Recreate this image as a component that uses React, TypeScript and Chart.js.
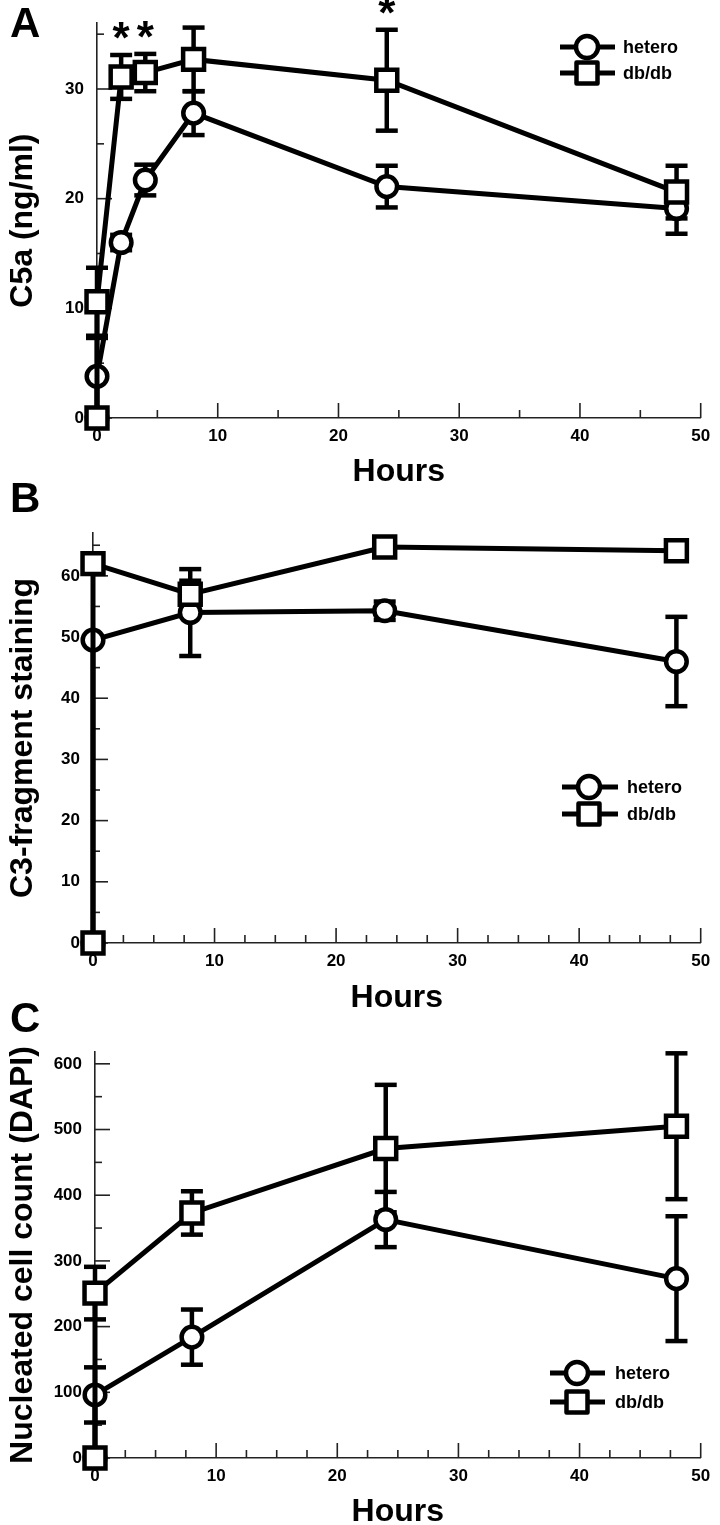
import React, { useEffect, useRef } from "react";
import { Chart, registerables } from "chart.js";

Chart.register(...registerables);

const FONT = "'Liberation Sans', Arial, Helvetica, sans-serif";

// ---------- Panel A : C5a (ng/ml) ----------
const hoursA = [0, 0, 2, 4, 8, 24, 48];
const c5aHetero = [0, 3.8, 16.0, 21.7, 27.8, 21.1, 19.1];
const c5aHeteroErr = [0, 3.5, 0.7, 1.4, 2.0, 1.9, 2.3];
const c5aDb = [0, 10.6, 31.1, 31.5, 32.7, 30.8, 20.6];
const c5aDbErr = [0, 3.1, 2.0, 1.7, 2.9, 4.6, 2.4];
const c5aStarIdx = [2, 3, 5];
const yTicksA = [0, 10, 20, 30];
const yMinorA = [5, 15, 25, 35];
const xMinorA = [5, 15, 25, 35, 45];

// ---------- Panel B : C3-fragment staining ----------
const hoursBC = [0, 0, 8, 24, 48];
const c3Hetero = [0, 49.5, 54.0, 54.3, 46.0];
const c3HeteroErr = [0, 0, 7.1, 1.5, 7.3];
const c3Db = [0, 62.0, 57.0, 64.7, 64.1];
const c3DbErr = [0, 0, 2.2, 0, 0];
const yTicksB = [0, 10, 20, 30, 40, 50, 60];
const yMinorB = [5, 15, 25, 35, 45, 55, 65];

// ---------- Panel C : Nucleated cell count (DAPI) ----------
const dapiHetero = [0, 96, 184, 363, 273];
const dapiHeteroErr = [0, 42, 42, 42, 95];
const dapiDb = [0, 251, 373, 471, 505];
const dapiDbErr = [0, 40, 33, 97, 111];
const yTicksC = [0, 100, 200, 300, 400, 500, 600];
const yMinorC = [50, 150, 250, 350, 450, 550];

// shared x ticks
const xTicks = [0, 10, 20, 30, 40, 50];
const xMinorBC = [2.5, 5, 7.5, 12.5, 15, 17.5, 22.5, 25, 27.5, 32.5, 35, 37.5, 42.5, 45, 47.5];

const seriesNames = ["hetero", "db/db"];

// layout given in page coordinates
const panels: any[] = [
  {
    letter: "A",
    canvasTop: 0,
    canvasHeight: 500,
    area: { left: 97, top: 15, right: 704, bottom: 418 },
    letterBaseline: 37,
    xTitleCenter: 472.5,
    yMax: 36,
    yTitle: "C5a (ng/ml)",
    hours: hoursA,
    hetero: c5aHetero,
    heteroErr: c5aHeteroErr,
    db: c5aDb,
    dbErr: c5aDbErr,
    stars: c5aStarIdx,
    yTicks: yTicksA,
    yMinor: yMinorA,
    xMinor: xMinorA,
    legend: { x1: 560, x2: 615, mx: 587, tx: 623, y1: 47, y2: 73 },
  },
  {
    letter: "B",
    canvasTop: 470,
    canvasHeight: 550,
    area: { left: 93, top: 533, right: 710, bottom: 943 },
    letterBaseline: 512,
    xTitleCenter: 998,
    yMax: 67,
    yTitle: "C3-fragment staining",
    hours: hoursBC,
    hetero: c3Hetero,
    heteroErr: c3HeteroErr,
    db: c3Db,
    dbErr: c3DbErr,
    stars: [],
    yTicks: yTicksB,
    yMinor: yMinorB,
    xMinor: xMinorBC,
    legend: { x1: 562, x2: 618, mx: 589, tx: 627, y1: 787, y2: 814 },
  },
  {
    letter: "C",
    canvasTop: 990,
    canvasHeight: 535,
    area: { left: 95, top: 1052, right: 707, bottom: 1458 },
    letterBaseline: 1032,
    xTitleCenter: 1512,
    yMax: 618,
    yTitle: "Nucleated cell count (DAPI)",
    hours: hoursBC,
    hetero: dapiHetero,
    heteroErr: dapiHeteroErr,
    db: dapiDb,
    dbErr: dapiDbErr,
    stars: [],
    yTicks: yTicksC,
    yMinor: yMinorC,
    xMinor: xMinorBC,
    legend: { x1: 550, x2: 605, mx: 577, tx: 615, y1: 1373, y2: 1402 },
  },
];

const TITLE_SIZE = 32;

function line(ctx: any, x1: number, y1: number, x2: number, y2: number) {
  ctx.beginPath();
  ctx.moveTo(x1, y1);
  ctx.lineTo(x2, y2);
  ctx.stroke();
}

function drawCircle(ctx: any, x: number, y: number, r: number) {
  ctx.beginPath();
  ctx.arc(x, y, r, 0, Math.PI * 2);
  ctx.fillStyle = "#fff";
  ctx.fill();
  ctx.lineWidth = 4.5;
  ctx.strokeStyle = "#000";
  ctx.stroke();
}

function drawSquare(ctx: any, x: number, y: number, h: number) {
  ctx.beginPath();
  ctx.rect(x - h, y - h, 2 * h, 2 * h);
  ctx.fillStyle = "#fff";
  ctx.fill();
  ctx.lineWidth = 4.5;
  ctx.lineJoin = "round";
  ctx.strokeStyle = "#000";
  ctx.stroke();
}

function makePlugin(spec: any) {
  const off = spec.canvasTop;
  return {
    id: "decor" + spec.letter,
    beforeDatasetsDraw(chart: any) {
      const ctx = chart.ctx;
      const xs = chart.scales.x;
      const ys = chart.scales.y;
      const left = chart.chartArea.left;
      const bottom = chart.chartArea.bottom;
      ctx.save();
      ctx.strokeStyle = "#222";
      ctx.lineWidth = 1.6;
      ctx.lineCap = "butt";
      spec.yTicks.forEach((v: number) => {
        const y = ys.getPixelForValue(v);
        line(ctx, left, y, left + 15, y);
      });
      spec.yMinor.forEach((v: number) => {
        const y = ys.getPixelForValue(v);
        line(ctx, left, y, left + 7, y);
      });
      xTicks.forEach((v: number) => {
        const x = xs.getPixelForValue(v);
        line(ctx, x, bottom, x, bottom - 15);
      });
      spec.xMinor.forEach((v: number) => {
        const x = xs.getPixelForValue(v);
        line(ctx, x, bottom, x, bottom - 8);
      });
      // error bars
      ctx.strokeStyle = "#000";
      ctx.lineWidth = 4.5;
      const groups = [
        [spec.hetero, spec.heteroErr],
        [spec.db, spec.dbErr],
      ];
      groups.forEach(([vals, errs]: any) => {
        vals.forEach((v: number, i: number) => {
          const e = errs[i];
          if (!e) return;
          const x = xs.getPixelForValue(spec.hours[i]);
          const yt = ys.getPixelForValue(v + e);
          const yb = ys.getPixelForValue(Math.max(0, v - e));
          line(ctx, x, yt, x, yb);
          line(ctx, x - 11, yt, x + 11, yt);
          line(ctx, x - 11, yb, x + 11, yb);
        });
      });
      ctx.restore();
    },
    afterDraw(chart: any) {
      const ctx = chart.ctx;
      const xs = chart.scales.x;
      const ys = chart.scales.y;
      ctx.save();
      // panel letter
      ctx.fillStyle = "#000";
      ctx.font = `bold 42px ${FONT}`;
      ctx.textAlign = "left";
      ctx.textBaseline = "alphabetic";
      ctx.fillText(spec.letter, 10, spec.letterBaseline - off);
      // significance asterisks
      ctx.font = `bold 44px ${FONT}`;
      ctx.textAlign = "center";
      spec.stars.forEach((i: number) => {
        const x = xs.getPixelForValue(spec.hours[i]);
        const yCap = ys.getPixelForValue(spec.db[i] + spec.dbErr[i]);
        ctx.fillText("*", x, yCap - 2);
      });
      // legend
      const L = spec.legend;
      [L.y1, L.y2].forEach((yy: number, k: number) => {
        const y = yy - off;
        ctx.strokeStyle = "#000";
        ctx.lineWidth = 5;
        ctx.lineCap = "butt";
        line(ctx, L.x1, y, L.x2, y);
        if (k === 0) drawCircle(ctx, L.mx, y, 11);
        else drawSquare(ctx, L.mx, y, 10.5);
        ctx.fillStyle = "#000";
        ctx.font = `bold 18px ${FONT}`;
        ctx.textAlign = "left";
        ctx.textBaseline = "middle";
        ctx.fillText(seriesNames[k], L.tx, y + 1);
      });
      ctx.restore();
    },
  };
}

function buildConfig(spec: any): any {
  const off = spec.canvasTop;
  const H = spec.canvasHeight;
  const areaTop = spec.area.top - off;
  const areaBottom = spec.area.bottom - off;
  const xTitlePad = H - (spec.xTitleCenter - off) - TITLE_SIZE / 2;
  const tickFont = { family: FONT, size: 17, weight: "bold" };
  const titleFont = { family: FONT, size: TITLE_SIZE, weight: "bold", lineHeight: 1 };
  const common = {
    showLine: true,
    borderColor: "#000",
    borderWidth: 5,
    tension: 0,
    pointBackgroundColor: "#fff",
    pointBorderColor: "#000",
    pointBorderWidth: 4.5,
    pointHoverRadius: 0,
    clip: false,
  };
  return {
    type: "line",
    data: {
      datasets: [
        {
          ...common,
          label: seriesNames[1],
          order: 0,
          data: spec.hours.map((h: number, i: number) => ({ x: h, y: spec.db[i] })),
          pointStyle: "rect",
          pointRadius: 14.8,
        },
        {
          ...common,
          label: seriesNames[0],
          order: 1,
          data: spec.hours.map((h: number, i: number) => ({ x: h, y: spec.hetero[i] })),
          pointStyle: "circle",
          pointRadius: 10.3,
        },
      ],
    },
    options: {
      responsive: false,
      animation: false,
      devicePixelRatio: 1,
      events: [],
      layout: {
        padding: { top: areaTop, right: 720 - spec.area.right, left: 0, bottom: 0 },
      },
      plugins: { legend: { display: false }, tooltip: { enabled: false } },
      scales: {
        x: {
          type: "linear",
          min: 0,
          max: 50,
          afterBuildTicks: (s: any) => {
            s.ticks = xTicks.map((v) => ({ value: v }));
          },
          afterFit: (s: any) => {
            s.height = H - areaBottom;
          },
          grid: { display: false, drawTicks: false },
          border: { display: true, color: "#222", width: 1.6 },
          ticks: { color: "#000", font: tickFont, padding: 8, maxRotation: 0, autoSkip: false },
          title: {
            display: true,
            text: "Hours",
            color: "#000",
            font: titleFont,
            padding: { top: 0, bottom: xTitlePad },
          },
        },
        y: {
          type: "linear",
          min: 0,
          max: spec.yMax,
          afterBuildTicks: (s: any) => {
            s.ticks = spec.yTicks.map((v: number) => ({ value: v }));
          },
          afterFit: (s: any) => {
            s.width = spec.area.left;
          },
          grid: { display: false, drawTicks: false },
          border: { display: true, color: "#222", width: 1.6 },
          ticks: { color: "#000", font: tickFont, padding: 13 },
          title: {
            display: true,
            text: spec.yTitle,
            color: "#000",
            font: titleFont,
            padding: { top: 7.5, bottom: 0 },
          },
        },
      },
    },
    plugins: [makePlugin(spec)],
  };
}

function Panel({ spec }: { spec: any }) {
  const ref = useRef<HTMLCanvasElement | null>(null);
  useEffect(() => {
    if (!ref.current) return;
    const chart = new Chart(ref.current, buildConfig(spec));
    return () => chart.destroy();
  }, [spec]);
  return (
    <canvas
      ref={ref}
      width={720}
      height={spec.canvasHeight}
      style={{
        position: "absolute",
        left: 0,
        top: spec.canvasTop,
        width: 720,
        height: spec.canvasHeight,
        display: "block",
      }}
    />
  );
}

export default function App() {
  return (
    <div
      style={{
        position: "absolute",
        left: 0,
        top: 0,
        width: 720,
        height: 1525,
        overflow: "hidden",
        background: "#fff",
      }}
    >
      {panels.map((p) => (
        <Panel key={p.letter} spec={p} />
      ))}
    </div>
  );
}
